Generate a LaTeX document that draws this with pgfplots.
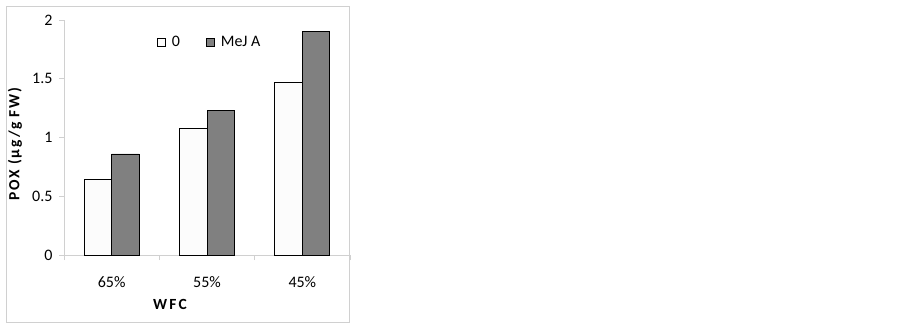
\documentclass[border=0pt]{standalone}
\usepackage{pgfplots}
\pgfplotsset{compat=1.18}
\usepackage{fontspec}
\setmainfont{Carlito}
\definecolor{axgray}{HTML}{D0D0D0}
\definecolor{bargray}{HTML}{808080}
\definecolor{barwhite}{HTML}{FCFCFC}
\begin{document}
\begin{tikzpicture}[x=1bp,y=1bp]
\path (0,0) rectangle (900,328);
\draw[axgray, line width=0.8bp] (6,6) rectangle (349,322);
\begin{axis}[
  at={(64bp,73bp)}, anchor=south west,
  width=286bp, height=235bp, scale only axis,
  xmin=-0.5, xmax=2.5, ymin=0, ymax=2,
  ybar=0pt, bar width=27.5bp,
  axis x line*=bottom, axis y line*=left,
  axis line style={axgray, line width=0.8bp, -},
  xtick={0,1,2}, xticklabels={65\%,55\%,45\%},
  major x tick style={draw=none},
  minor xtick={-0.5,0.5,1.5,2.5},
  minor tick length=5bp,
  minor x tick style={axgray, line width=0.8bp},
  ytick={0,0.5,1,1.5,2},
  yticklabels={0,0.5,1,1.5,2},
  major tick length=5bp,
  y tick style={axgray, line width=0.8bp},
  tick align=outside,
  /pgf/number format/assume math mode=true,
  tick label style={font=\fontsize{16bp}{18bp}\selectfont},
  xticklabel style={yshift=-13bp},
  yticklabel style={xshift=-3bp},
  legend columns=2,
  legend style={draw=none, fill=none, at={(0.325,0.906)}, anchor=west,
    font=\fontsize{16bp}{18bp}\selectfont, inner sep=0pt,
    /tikz/every even column/.append style={column sep=24bp}},
  legend image code/.code={\draw[#1, line width=0.8bp] (0bp,-4bp) rectangle (8bp,4bp); \path (12bp,0bp);},
  clip=false,
]
\addplot[fill=barwhite, draw=black, line width=0.8bp] coordinates {(0,0.64) (1,1.08) (2,1.465)};
\addplot[fill=bargray, draw=black, line width=0.8bp] coordinates {(0,0.86) (1,1.23) (2,1.905)};
\legend{0,MeJ A}
\end{axis}
\node[rotate=90, font=\fontsize{15.5bp}{18bp}\selectfont\bfseries\addfontfeature{LetterSpace=12}] at (15,184) {POX (µg/g FW)};
\node[font=\fontsize{15.5bp}{18bp}\selectfont\bfseries\addfontfeature{LetterSpace=14}] at (170,24) {WFC};
\end{tikzpicture}
\end{document}
